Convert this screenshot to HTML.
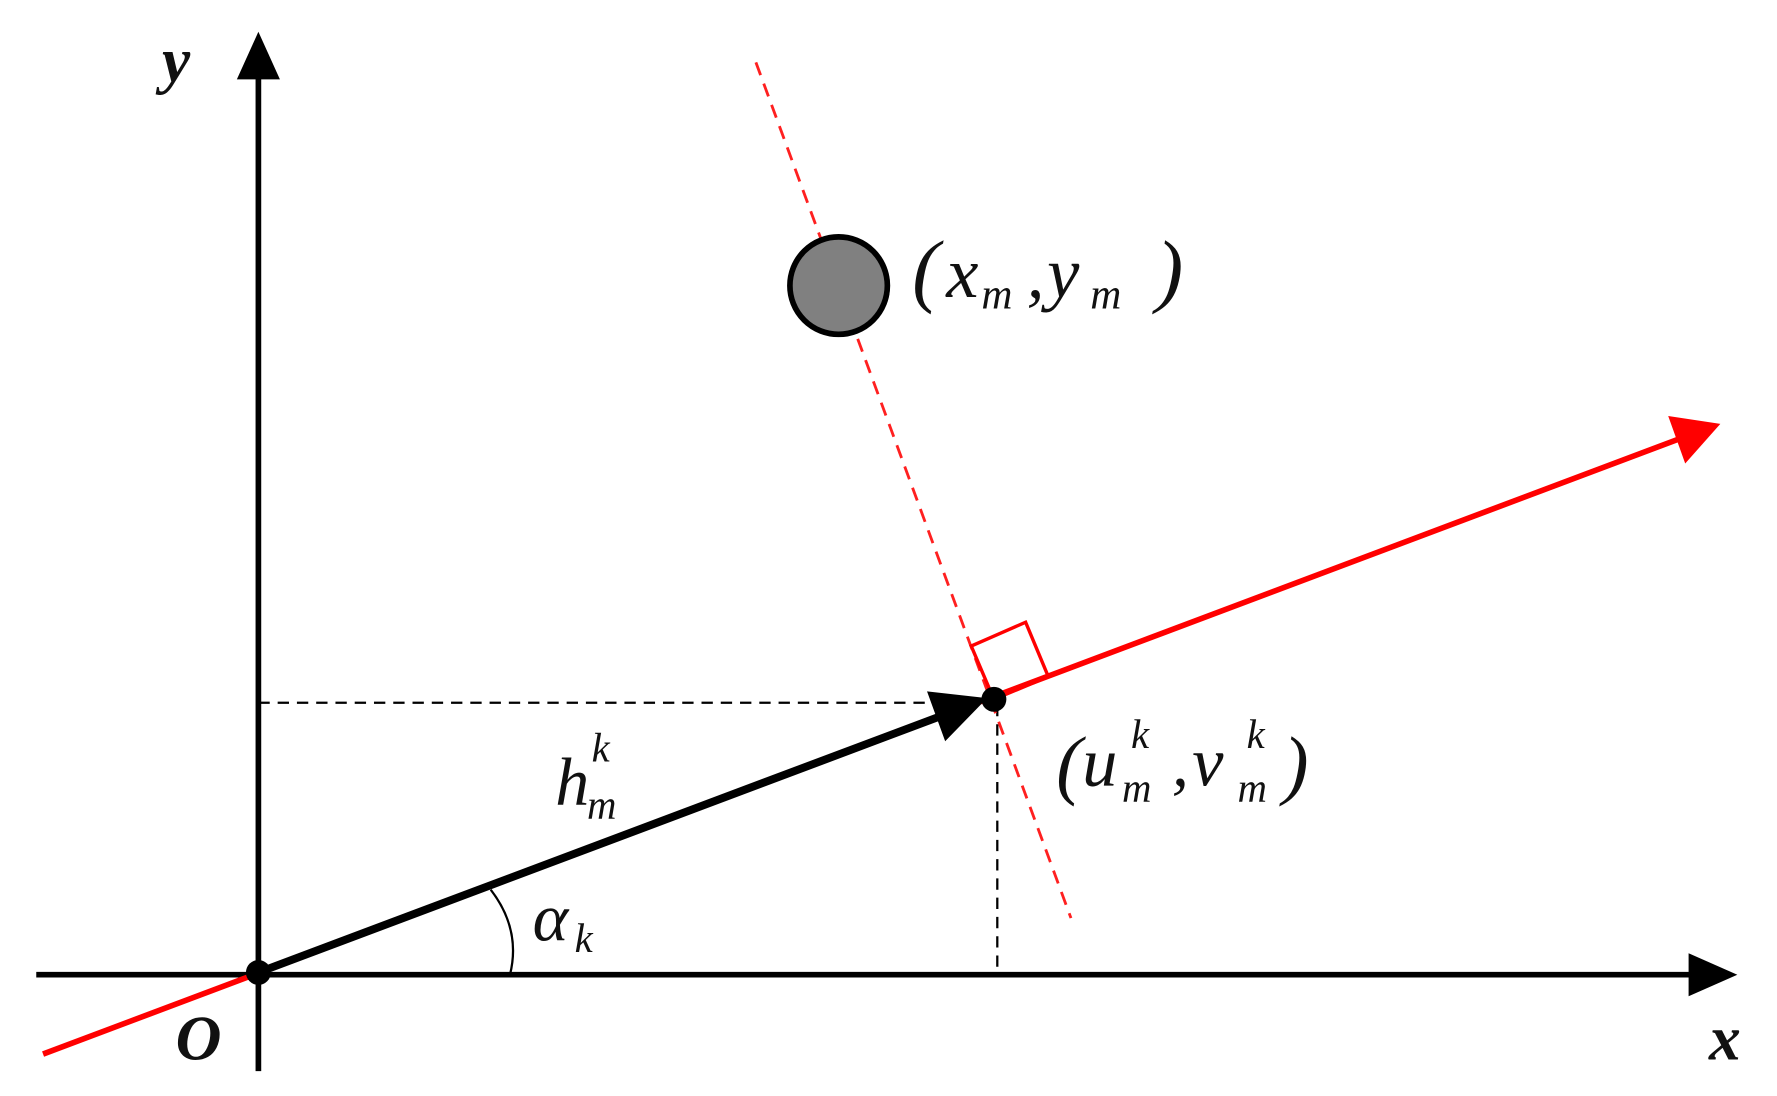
<!DOCTYPE html>
<html><head><meta charset="utf-8"><style>
html,body{margin:0;padding:0;background:#fff;}
svg{display:block;}
text{font-family:"Liberation Serif",serif;font-style:italic;fill:#111;}
</style></head><body>
<svg width="1777" height="1096" viewBox="0 0 1568 967" preserveAspectRatio="none" xmlns="http://www.w3.org/2000/svg">
<line x1="228" y1="620" x2="862" y2="620" stroke="#000" stroke-width="2" stroke-dasharray="10,7"/>
<line x1="880" y1="622" x2="880" y2="860" stroke="#000" stroke-width="2" stroke-dasharray="10,7"/>
<line x1="667" y1="55" x2="945" y2="810" stroke="#ff2020" stroke-width="2.5" stroke-dasharray="12,8"/>
<line x1="228" y1="945" x2="228" y2="65" stroke="#000" stroke-width="5"/>
<polygon points="228,28 209,70 247,70" fill="#000"/>
<line x1="32" y1="860" x2="1495" y2="860" stroke="#000" stroke-width="5"/>
<polygon points="1533,860 1490,841 1490,879" fill="#000"/>
<line x1="38" y1="930" x2="1485" y2="386" stroke="#ff0000" stroke-width="5"/>
<polygon points="1518,374 1472,367 1487,409" fill="#ff0000"/>
<polygon points="877,617 857,570 905,549 925,597" fill="none" stroke="#ff0000" stroke-width="3"/>
<line x1="228" y1="858" x2="835" y2="630" stroke="#000" stroke-width="7"/>
<polygon points="871,616 818,610 834,654" fill="#000"/>
<circle cx="228" cy="858" r="11" fill="#000"/>
<circle cx="877" cy="617" r="11" fill="#000"/>
<path d="M433,785 Q460,820 450,860" fill="none" stroke="#000" stroke-width="2"/>
<circle cx="740" cy="252" r="43" fill="#808080" stroke="#000" stroke-width="5"/>
<text x="143" y="72" font-size="56" font-weight="bold">y</text>
<text x="1508" y="935" font-size="56" font-weight="bold">x</text>
<text x="155" y="935" font-size="56" font-weight="bold">O</text>
<text x="490" y="710" font-size="60">h</text>
<text x="522" y="672" font-size="36">k</text>
<text x="518" y="722" font-size="36">m</text>
<text x="470" y="830" font-size="60">α</text>
<text x="507" y="840" font-size="36">k</text>
<text x="805" y="262" font-size="72" font-style="normal">(</text>
<text x="835" y="262" font-size="64">x</text>
<text x="866" y="272" font-size="38">m</text>
<text x="906" y="262" font-size="62">,</text>
<text x="924" y="262" font-size="64">y</text>
<text x="962" y="272" font-size="38">m</text>
<text x="1020" y="262" font-size="72" font-style="normal">)</text>
<text x="932" y="697" font-size="68" font-style="normal">(</text>
<text x="955" y="693" font-size="62">u</text>
<text x="998" y="660" font-size="36">k</text>
<text x="990" y="707" font-size="36">m</text>
<text x="1034" y="693" font-size="60">,</text>
<text x="1052" y="693" font-size="62">v</text>
<text x="1100" y="660" font-size="36">k</text>
<text x="1092" y="707" font-size="36">m</text>
<text x="1132" y="697" font-size="68" font-style="normal">)</text>
</svg>
</body></html>
